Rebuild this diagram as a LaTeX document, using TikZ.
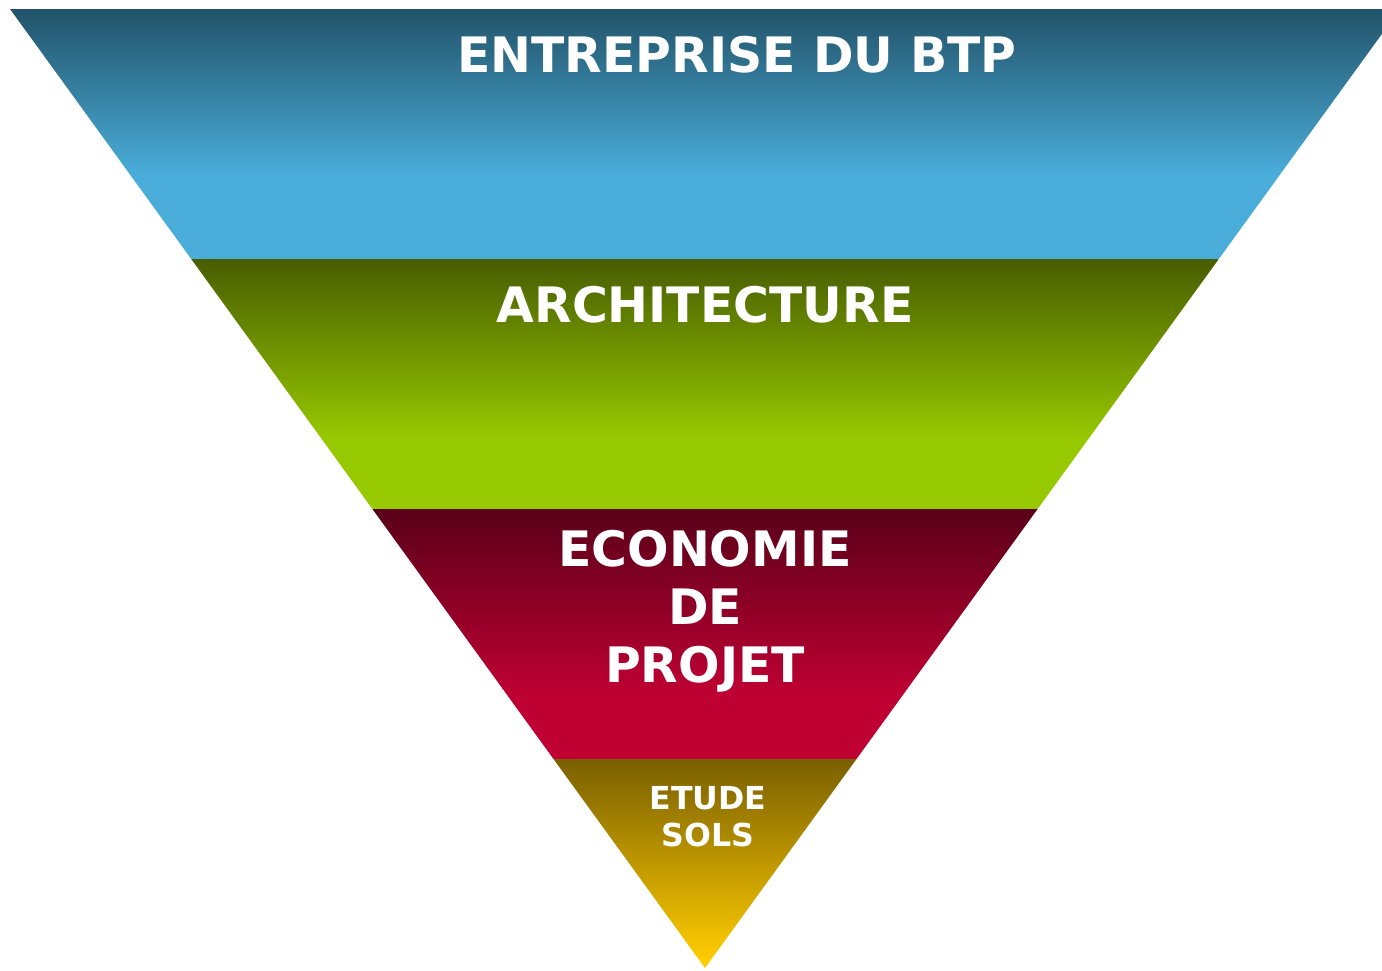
\documentclass[tikz,border=0pt]{standalone}
\usepackage{fontspec}
\setmainfont{DejaVu Sans}

% band colours (dark top / light bottom)
\definecolor{btpDark}{HTML}{22536A}
\definecolor{btpLight}{HTML}{4AADD9}
\definecolor{archDark}{HTML}{485D00}
\definecolor{archLight}{HTML}{97C900}
\definecolor{ecoDark}{HTML}{5A0019}
\definecolor{ecoLight}{HTML}{BE0033}
\definecolor{solDark}{HTML}{795F00}
\definecolor{solLight}{HTML}{FFCC00}

% vertical shadings: path spans 25bp (bottom) .. 75bp (top)
\pgfdeclareverticalshading{btpshade}{100bp}{color(0bp)=(btpLight); color(42bp)=(btpLight); color(75bp)=(btpDark); color(100bp)=(btpDark)}
\pgfdeclareverticalshading{archshade}{100bp}{color(0bp)=(archLight); color(39bp)=(archLight); color(75bp)=(archDark); color(100bp)=(archDark)}
\pgfdeclareverticalshading{ecoshade}{100bp}{color(0bp)=(ecoLight); color(38bp)=(ecoLight); color(75bp)=(ecoDark); color(100bp)=(ecoDark)}
\pgfdeclareverticalshading{solshade}{100bp}{color(0bp)=(solLight); color(27bp)=(solLight); color(75bp)=(solDark); color(100bp)=(solDark)}

\begin{document}
\begin{tikzpicture}[x=0.02cm,y=-0.02cm,
    label/.style={text=white,font=\bfseries,inner sep=0pt,align=center}]
  \useasboundingbox (0,0) rectangle (1382,970);
  \clip (0,0) rectangle (1382,970);
%  \draw[help lines,step=100] (0,0) grid (1382,970);
  % the four bands of the funnel
  \shade[shading=btpshade]  (10,9) -- (1400,9) -- (1218.8,259) -- (191.2,259) -- cycle;
  \shade[shading=archshade] (191.2,259) -- (1218.8,259) -- (1037.6,509) -- (372.4,509) -- cycle;
  \shade[shading=ecoshade]  (372.4,509) -- (1037.6,509) -- (856.5,759) -- (553.5,759) -- cycle;
  \shade[shading=solshade]  (553.5,759) -- (856.5,759) -- (705,968) -- cycle;
  % band titles
  \path (737,72) node(btp) [label,anchor=base,font=\bfseries\fontsize{27.8pt}{33pt}\selectfont] {ENTREPRISE DU BTP}
    (705,322) node(arch) [label,anchor=base,font=\bfseries\fontsize{27.8pt}{33pt}\selectfont] {ARCHITECTURE}
    (705,611) node(eco) [label,font=\bfseries\fontsize{27.8pt}{32.9pt}\selectfont] {ECONOMIE\\DE\\PROJET}
    (708,817) node(sol) [label,font=\bfseries\fontsize{18pt}{21pt}\selectfont] {ETUDE\\SOLS};
\end{tikzpicture}
\end{document}
